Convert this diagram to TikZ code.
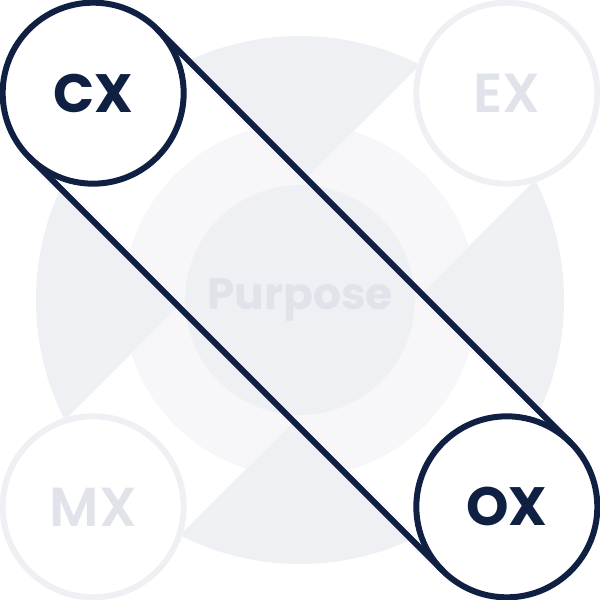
\documentclass[tikz,border=0pt]{standalone}
\usepackage{fontspec}
\setmainfont{Poppins}
\newfontfamily\semifont{Poppins SemiBold}
\usetikzlibrary{positioning}
\definecolor{navy}{HTML}{0F2042}
\definecolor{discgray}{HTML}{EFF0F4}
\definecolor{ringgray}{HTML}{F7F7F9}
\definecolor{textgray}{HTML}{E1E3EA}

\begin{document}
\begin{tikzpicture}[x=1pt, y=1pt, node distance=292.5pt,
		xp/.style = {draw, circle, fill=white, line width=6pt, outer sep=0pt, minimum size=181pt},
		active/.style = {xp, draw=navy, text=navy, font=\fontsize{54}{54}\selectfont\bfseries},
		faded/.style = {xp, draw=discgray, text=textgray, font=\fontsize{55}{55}\semifont},
		purpose/.style = {circle, fill=discgray, text=textgray, minimum size=230pt, font=\fontsize{44}{44}\selectfont\bfseries}]
		\useasboundingbox (-300,-300) rectangle (300,300);
		\fill[discgray] (0,0) circle (264);
		\fill[white, rotate=45] (-292,-81.3) rectangle (292,81.3);
		\fill[white, rotate=-45] (-292,-90.5) rectangle (292,90.5);
		\foreach \ang/\half in {45/81.3, -45/90.5} {
			\begin{scope}
				\clip[rotate=\ang] (-292,-\half) rectangle (292,\half);
				\fill[ringgray] (0,0) circle (177);
			\end{scope}
		}
		\node[purpose] (center) {Purpose};
		\node[active] (cx) [above left of=center] {CX};
		\node[faded] (ex) [above right of=center] {EX};
		\node[faded] (mx) [below left of=center] {MX};
		\node[active] (ox) [below right of=center] {OX};
		\draw[navy, line width=6pt] (cx.north east) -- (ox.north east);
		\draw[navy, line width=6pt] (cx.south west) -- (ox.south west);
	\end{tikzpicture}
\end{document}
